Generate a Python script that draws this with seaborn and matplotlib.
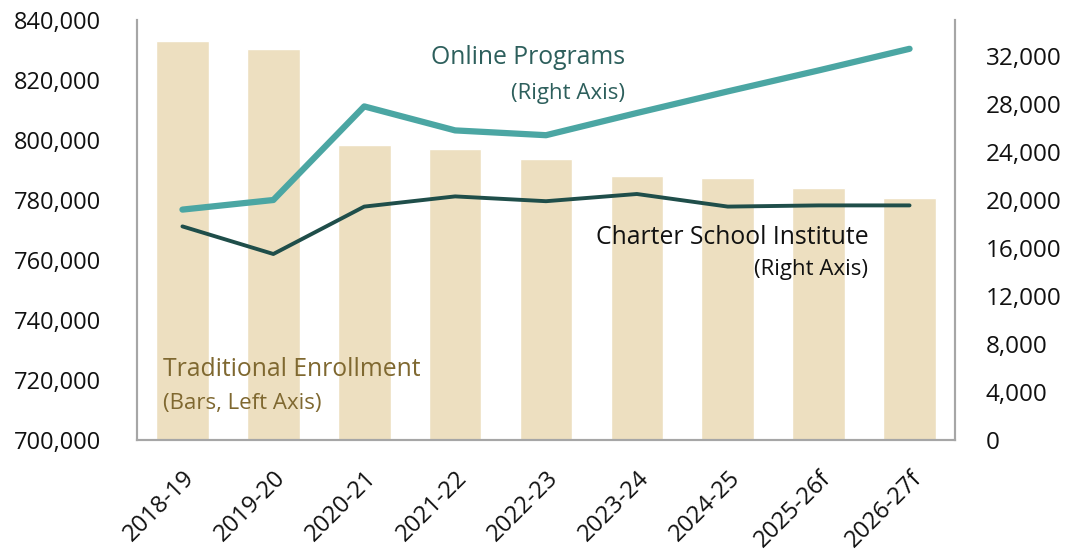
import pandas as pd
import seaborn as sns
import matplotlib.pyplot as plt
from matplotlib.ticker import FuncFormatter, MultipleLocator

# Data
years = ['2018-19', '2019-20', '2020-21', '2021-22', '2022-23',
         '2023-24', '2024-25', '2025-26f', '2026-27f']
traditional = [833000, 830300, 798400, 797100, 793700, 788000, 787400, 784100, 780600]
online = [19200, 20000, 27800, 25800, 25400, 27250, 29050, 30800, 32600]
charter = [17800, 15500, 19450, 20300, 19900, 20500, 19450, 19550, 19550]

df = pd.DataFrame({'Year': years, 'Traditional': traditional,
                   'Online': online, 'Charter': charter})

sns.set_theme(style='white')
plt.rcParams['font.family'] = ['Open Sans', 'DejaVu Sans']

fig, ax = plt.subplots(figsize=(10.67, 5.54), dpi=100)
fig.subplots_adjust(left=137 / 1067, right=955 / 1067, top=1 - 20 / 554, bottom=1 - 440 / 554)

sns.barplot(data=df, x='Year', y='Traditional', color='#EDDFC0', saturation=1,
            width=0.58, ax=ax)
ax.set_ylim(700000, 840000)
ax.set_xlim(-0.5, len(years) - 0.5)
ax.yaxis.set_major_locator(MultipleLocator(20000))
ax.yaxis.set_major_formatter(FuncFormatter(lambda v, p: f'{v:,.0f}'))

ax2 = ax.twinx()
sns.lineplot(data=df, x='Year', y='Online', color='#4BA6A3', linewidth=4.5,
             sort=False, ax=ax2)
sns.lineplot(data=df, x='Year', y='Charter', color='#1F4E4A', linewidth=2.8,
             sort=False, ax=ax2)
ax2.set_ylim(0, 35000)
ax2.yaxis.set_major_locator(MultipleLocator(4000))
ax2.yaxis.set_major_formatter(FuncFormatter(lambda v, p: f'{v:,.0f}'))

for a in (ax, ax2):
    a.set_xlabel('')
    a.set_ylabel('')
    a.spines['top'].set_visible(False)
    for s in ('left', 'right', 'bottom'):
        a.spines[s].set_color('#A6A6A6')
        a.spines[s].set_linewidth(1.5)

ax.tick_params(axis='y', length=0, pad=26, labelsize=17, labelcolor='#111111')
ax2.tick_params(axis='y', length=0, pad=22, labelsize=17.5, labelcolor='#111111')
ax.tick_params(axis='x', length=0, pad=19, labelsize=17.2, labelcolor='#111111')
for lab in ax.get_xticklabels():
    lab.set_rotation(45)
    lab.set_ha('right')
    lab.set_rotation_mode('anchor')

# Series labels
ax.text(0.597, 0.910, 'Online Programs', transform=ax.transAxes, ha='right',
        va='center', fontsize=17.8, color='#2D5F5C')
ax.text(0.597, 0.826, '(Right Axis)', transform=ax.transAxes, ha='right',
        va='center', fontsize=16, color='#2D5F5C')
ax.text(0.894, 0.483, 'Charter School Institute', transform=ax.transAxes, ha='right',
        va='center', fontsize=17.8, color='#111111')
ax.text(0.894, 0.405, '(Right Axis)', transform=ax.transAxes, ha='right',
        va='center', fontsize=16, color='#111111')
ax.text(0.032, 0.169, 'Traditional Enrollment', transform=ax.transAxes, ha='left',
        va='center', fontsize=17.8, color='#7F6830')
ax.text(0.032, 0.088, '(Bars, Left Axis)', transform=ax.transAxes, ha='left',
        va='center', fontsize=16, color='#7F6830')

fig.savefig('out.png', dpi=100)
